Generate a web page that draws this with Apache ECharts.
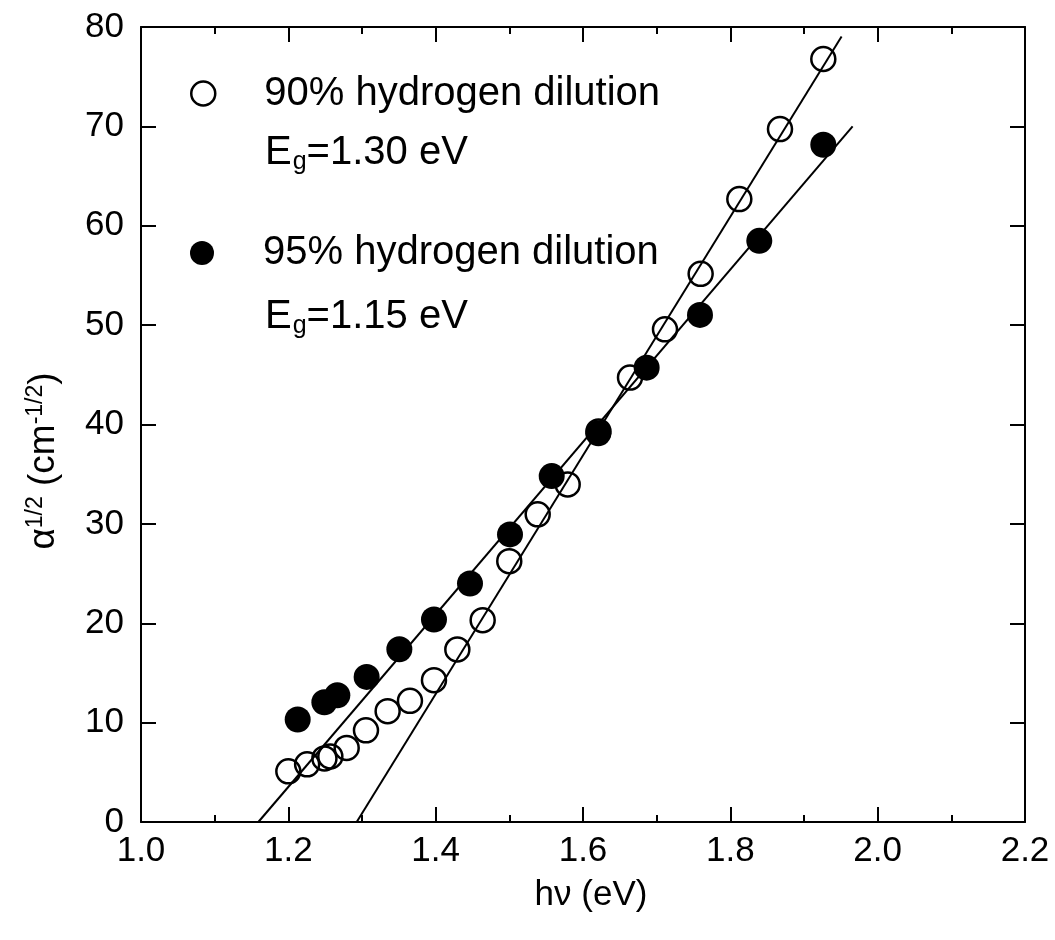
<!DOCTYPE html>
<html>
<head>
<meta charset="utf-8">
<script src="https://cdn.jsdelivr.net/npm/echarts@6/dist/echarts.min.js"></script>
<style>
html,body{margin:0;padding:0;background:#fff;}
#chart{width:1055px;height:940px;}
</style>
</head>
<body>
<div id="chart"></div>
<script>
// ---- data ----
const seriesNames = ['90% hydrogen dilution', '95% hydrogen dilution'];
const gapLabels = ['1.30', '1.15'];

const open90X = [1.2000, 1.2255, 1.2490, 1.2570, 1.2792, 1.3054, 1.3348, 1.3651, 1.3977, 1.4294, 1.4638,
                 1.4999, 1.5385, 1.5792, 1.6210, 1.6638, 1.7113, 1.7597, 1.8122, 1.8674, 1.9262];
const open90Y = [5.1, 5.8, 6.4, 6.6, 7.45, 9.23, 11.15, 12.19, 14.27, 17.36, 20.31,
                 26.25, 30.96, 33.97, 39.3, 44.72, 49.58, 55.16, 62.68, 69.73, 76.78];

const filled95X = [1.2127, 1.2489, 1.2665, 1.3063, 1.3507, 1.3977, 1.4466, 1.5009, 1.5575, 1.6208,
                   1.6864, 1.7588, 1.8393, 1.9262];
const filled95Y = [10.31, 12.05, 12.76, 14.60, 17.39, 20.38, 24.0, 28.94, 34.81, 39.11,
                   45.72, 51.03, 58.48, 68.15];

// linear fit lines (end points)
const fit90X = [1.2928, 1.951];
const fit90Y = [0, 79.05];
const fit95X = [1.1593, 1.966];
const fit95Y = [0, 70.0];

const xTicks = {min: 1.0, max: 2.2, step: 0.2};
const yTicks = {min: 0, max: 80, step: 10};

// ---- chart ----
const FONT = "'Liberation Sans', Arial, Helvetica, sans-serif";
const pairs = (xs, ys) => xs.map((x, i) => [x, ys[i]]);

const chart = echarts.init(document.getElementById('chart'), null, {renderer: 'canvas'});

const tickStyle = {show: true, inside: true, length: 15, lineStyle: {color: '#000', width: 2}};
const minorStyle = {show: true, splitNumber: 2, length: 7, lineStyle: {color: '#000', width: 2}};
const lineStyleAxis = {show: true, onZero: false, lineStyle: {color: '#000', width: 2}};

const openStyle = {color: 'rgba(0,0,0,0)', borderColor: '#000', borderWidth: 2.5, opacity: 1};
const filledStyle = {color: '#000', borderColor: '#000', borderWidth: 0, opacity: 1};

const legendText = (pad) => ({
  fontFamily: FONT, fontSize: 40, color: '#000', lineHeight: 40, padding: pad
});

const egRich = {
  a: {fontFamily: FONT, fontSize: 40, fill: '#000', lineHeight: 42},
  b: {fontFamily: FONT, fontSize: 25, fill: '#000', lineHeight: 18, padding: [20, 0, 0, 1]}
};

chart.setOption({
  animation: false,
  backgroundColor: '#fff',
  grid: {left: 141, right: 30, top: 27, bottom: 118, containLabel: false},
  xAxis: [
    {
      type: 'value', position: 'bottom', min: xTicks.min, max: xTicks.max, interval: xTicks.step,
      axisLine: lineStyleAxis, axisTick: tickStyle, minorTick: minorStyle, splitLine: {show: false},
      axisLabel: {fontFamily: FONT, fontSize: 35, color: '#000', margin: 12,
                  formatter: v => v.toFixed(1)},
      name: 'hν (eV)', nameLocation: 'middle', nameGap: 56,
      nameTextStyle: {fontFamily: FONT, fontSize: 35, color: '#000', verticalAlign: 'top',
                      padding: [0, 0, 0, 16]}
    },
    {
      type: 'value', position: 'top', min: xTicks.min, max: xTicks.max, interval: xTicks.step,
      axisLine: lineStyleAxis, axisTick: tickStyle, minorTick: minorStyle, splitLine: {show: false},
      axisLabel: {show: false}
    }
  ],
  yAxis: [
    {
      type: 'value', position: 'left', min: yTicks.min, max: yTicks.max, interval: yTicks.step,
      axisLine: lineStyleAxis, axisTick: tickStyle, splitLine: {show: false},
      axisLabel: {fontFamily: FONT, fontSize: 35, color: '#000', margin: 17}
    },
    {
      type: 'value', position: 'right', min: yTicks.min, max: yTicks.max, interval: yTicks.step,
      axisLine: lineStyleAxis, axisTick: tickStyle, splitLine: {show: false},
      axisLabel: {show: false}
    }
  ],
  legend: [
    {
      orient: 'vertical', left: 190, top: 64, padding: 0,
      itemWidth: 24, itemHeight: 24, selectedMode: false,
      data: [{name: seriesNames[0], icon: 'circle', itemStyle: openStyle}],
      textStyle: legendText([0, 0, 19, 44])
    },
    {
      orient: 'vertical', left: 190, top: 229, padding: 0,
      itemWidth: 24, itemHeight: 24, selectedMode: false,
      data: [{name: seriesNames[1], icon: 'circle', itemStyle: filledStyle}],
      textStyle: legendText([0, 0, 8, 44])
    }
  ],
  graphic: [
    {
      type: 'text', left: 265, top: 130, silent: true,
      style: {text: '{a|E}{b|g}{a|=' + gapLabels[0] + ' eV}', rich: egRich}
    },
    {
      type: 'text', left: 265, top: 294, silent: true,
      style: {text: '{a|E}{b|g}{a|=' + gapLabels[1] + ' eV}', rich: egRich}
    },
    {
      type: 'text', x: 44, y: 461, rotation: Math.PI / 2, silent: true,
      style: {
        text: '{a|α}{s|1/2}{a| (cm}{s|-1/2}{a|)}',
        align: 'center', verticalAlign: 'middle',
        rich: {
          a: {fontFamily: FONT, fontSize: 37, fill: '#000', lineHeight: 40},
          s: {fontFamily: FONT, fontSize: 23, fill: '#000', lineHeight: 22, verticalAlign: 'top'}
        }
      }
    }
  ],
  series: [
    {
      name: 'fit90', type: 'line', data: pairs(fit90X, fit90Y), symbol: 'none',
      lineStyle: {color: '#000', width: 2}, z: 2, silent: true
    },
    {
      name: 'fit95', type: 'line', data: pairs(fit95X, fit95Y), symbol: 'none',
      lineStyle: {color: '#000', width: 2}, z: 2, silent: true
    },
    {
      name: seriesNames[0], type: 'scatter', data: pairs(open90X, open90Y),
      symbol: 'circle', symbolSize: 24, itemStyle: openStyle, z: 3
    },
    {
      name: seriesNames[1], type: 'scatter', data: pairs(filled95X, filled95Y),
      symbol: 'circle', symbolSize: 26, itemStyle: filledStyle, z: 4
    }
  ]
});
</script>
</body>
</html>
